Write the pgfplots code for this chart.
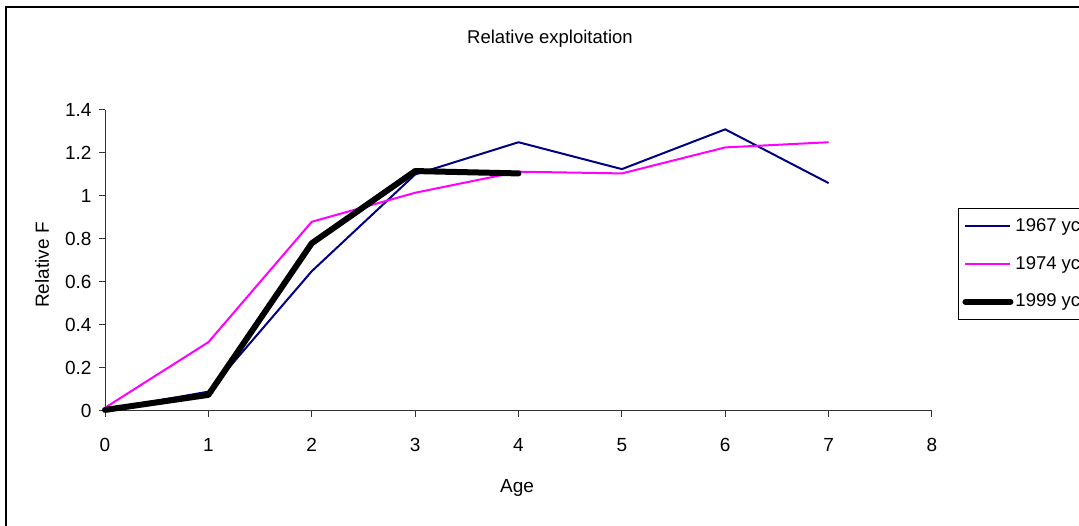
\documentclass[border=0pt]{standalone}
\usepackage{fontspec}
\setmainfont{Liberation Sans}
\usepackage{pgfplots}
\pgfplotsset{compat=1.18}
\definecolor{navy}{RGB}{0,0,128}
\definecolor{mag}{RGB}{255,0,255}
\begin{document}
\fontsize{19}{22}\selectfont
\begin{tikzpicture}[x=1pt,y=1pt]
\useasboundingbox (0,0) rectangle (1079,526);
\draw[line width=1.5pt] (6,519) rectangle (1200,-10);
\node[font=\fontsize{18.5}{21}\selectfont] at (550,487) {Relative exploitation};
\node[rotate=90] at (42,261) {Relative F};
\node at (517,38) {Age};
\begin{axis}[at={(105pt,115pt)}, anchor=south west, scale only axis,
  width=827pt, height=301pt,
  xmin=0, xmax=8, ymin=0, ymax=1.4,
  axis lines*=left, clip=false,
  axis line style={line width=1pt, black!80},
  xtick={0,1,2,3,4,5,6,7,8},
  ytick={0,0.2,0.4,0.6,0.8,1,1.2,1.4},
  yticklabels={0,0.2,0.4,0.6,0.8,1,1.2,1.4},
  tick align=outside, major tick length=6pt,
  tick style={line width=1pt, black!80},
  /pgf/number format/assume math mode=true,
  ticklabel style={font=\fontsize{19}{22}\selectfont},
  xticklabel style={yshift=-15pt},
  yticklabel style={xshift=-1pt},
  legend style={at={(axis description cs:1.0314,0.675)}, anchor=north west,
    draw=black, line width=1pt, font=\fontsize{18.5}{21}\selectfont,
    row sep=18pt, inner xsep=4pt, inner ysep=8pt,
    nodes={inner xsep=2pt, inner ysep=2pt}},
  legend cell align=left,
  legend image code/.code={\draw[#1] (0pt,0pt) -- (45pt,0pt);},
]
\addplot[navy, line width=2pt, line join=round] coordinates {
(0,0.005) (1,0.09) (2,0.65) (3,1.10) (4,1.25) (5,1.125) (6,1.31) (7,1.06)};
\addlegendentry{1967 yc}
\addplot[mag, line width=2pt, line join=round] coordinates {
(0,0.015) (1,0.32) (2,0.88) (3,1.015) (4,1.113) (5,1.105) (6,1.226) (7,1.25)};
\addlegendentry{1974 yc}
\addplot[black, line width=6pt, line join=round, line cap=round] coordinates {
(0,0.005) (1,0.075) (2,0.78) (3,1.116) (4,1.105)};
\addlegendentry{1999 yc}
\end{axis}
\end{tikzpicture}
\end{document}
